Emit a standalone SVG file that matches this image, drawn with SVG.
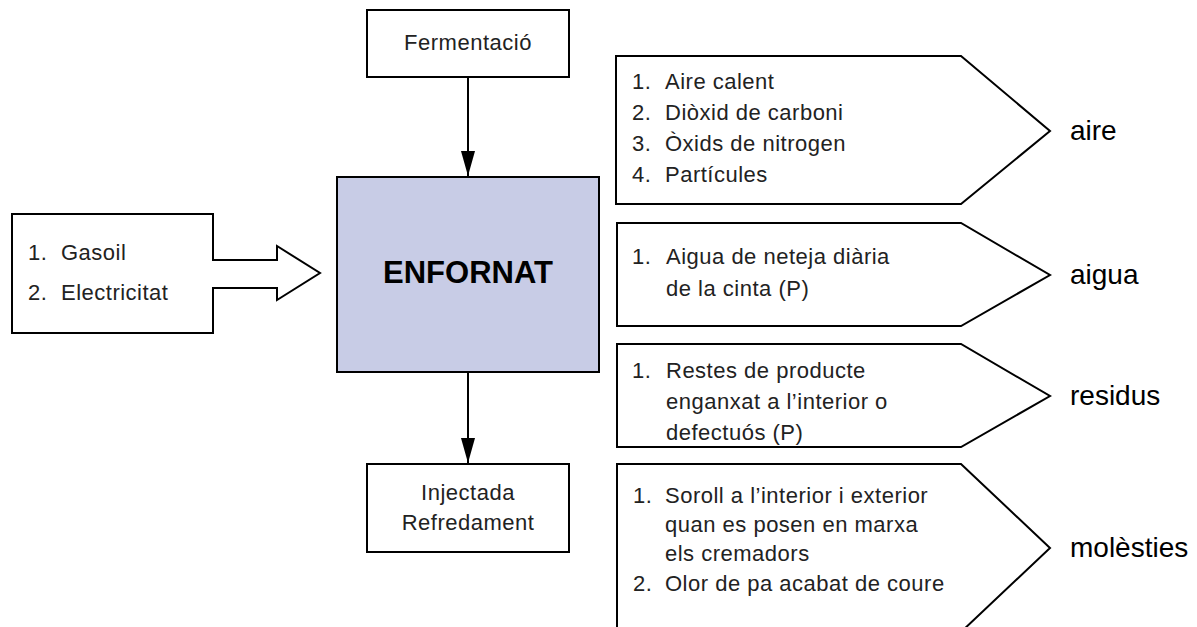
<svg xmlns="http://www.w3.org/2000/svg" width="1197" height="627" viewBox="0 0 1197 627">
<defs>
<style>
.box{fill:#fff;stroke:#000;stroke-width:2}
.main{fill:#c8cce6;stroke:#000;stroke-width:2}
.t{font-family:"Liberation Sans",Arial,sans-serif;font-size:22px;letter-spacing:0.5px;fill:#222}
.c{text-anchor:middle}
.lbl{font-family:"Liberation Sans",Arial,sans-serif;font-size:28px;fill:#000}
.big{font-family:"Liberation Sans",Arial,sans-serif;font-size:31px;font-weight:bold;fill:#000;text-anchor:middle}
.conn{stroke:#000;stroke-width:2;fill:none}
</style>
<marker id="ah" viewBox="0 0 25 14" refX="25" refY="7" markerWidth="25" markerHeight="14" markerUnits="userSpaceOnUse" orient="auto">
<path d="M0,0 L25,7 L0,14 z" fill="#000"/>
</marker>
</defs>

<g id="connectors">
<line class="conn" x1="468" y1="77" x2="468" y2="176" marker-end="url(#ah)"/>
<line class="conn" x1="468" y1="372" x2="468" y2="463" marker-end="url(#ah)"/>
</g>

<g id="fermentacio">
<rect class="box" x="367" y="10" width="202" height="67"/>
<text class="t c" x="468" y="50">Fermentació</text>
</g>

<g id="enfornat">
<rect class="main" x="337" y="177" width="262" height="195"/>
<text class="big" x="468" y="283">ENFORNAT</text>
</g>

<g id="injectada">
<rect class="box" x="367" y="464" width="202" height="88"/>
<text class="t c" x="468" y="500">Injectada</text>
<text class="t c" x="468" y="530">Refredament</text>
</g>

<g id="entrades">
<polygon class="box" points="12,214 213,214 213,260 277,260 277,246 320,273 277,300 277,288 213,288 213,333 12,333"/>
<text class="t" x="28" y="260">1.</text><text class="t" x="61" y="260">Gasoil</text>
<text class="t" x="28" y="300">2.</text><text class="t" x="61" y="300">Electricitat</text>
</g>

<g id="aire">
<polygon class="box" points="616,56 961,56 1050,131 961,204 616,204"/>
<text class="t" x="632" y="89">1.</text><text class="t" x="665" y="89">Aire calent</text>
<text class="t" x="632" y="120">2.</text><text class="t" x="665" y="120">Diòxid de carboni</text>
<text class="t" x="632" y="151">3.</text><text class="t" x="665" y="151">Òxids de nitrogen</text>
<text class="t" x="632" y="182">4.</text><text class="t" x="665" y="182">Partícules</text>
<text class="lbl" x="1070" y="140">aire</text>
</g>

<g id="aigua">
<polygon class="box" points="617,223 961,223 1050,275 961,326 617,326"/>
<text class="t" x="632" y="264">1.</text><text class="t" x="666" y="264">Aigua de neteja diària</text>
<text class="t" x="666" y="296">de la cinta (P)</text>
<text class="lbl" x="1070" y="284">aigua</text>
</g>

<g id="residus">
<polygon class="box" points="617,344 961,344 1050,396 961,447 617,447"/>
<text class="t" x="632" y="378">1.</text><text class="t" x="666" y="378">Restes de producte</text>
<text class="t" x="666" y="409">enganxat a l’interior o</text>
<text class="t" x="666" y="440">defectuós (P)</text>
<text class="lbl" x="1070" y="405">residus</text>
</g>

<g id="molesties">
<polygon class="box" points="617,464 961,464 1050,548 961,632 617,632"/>
<text class="t" x="633" y="503">1.</text><text class="t" x="665" y="503">Soroll a l’interior i exterior</text>
<text class="t" x="665" y="532">quan es posen en marxa</text>
<text class="t" x="665" y="561">els cremadors</text>
<text class="t" x="633" y="591">2.</text><text class="t" x="665" y="591">Olor de pa acabat de coure</text>
<text class="lbl" x="1070" y="557">molèsties</text>
</g>
</svg>
